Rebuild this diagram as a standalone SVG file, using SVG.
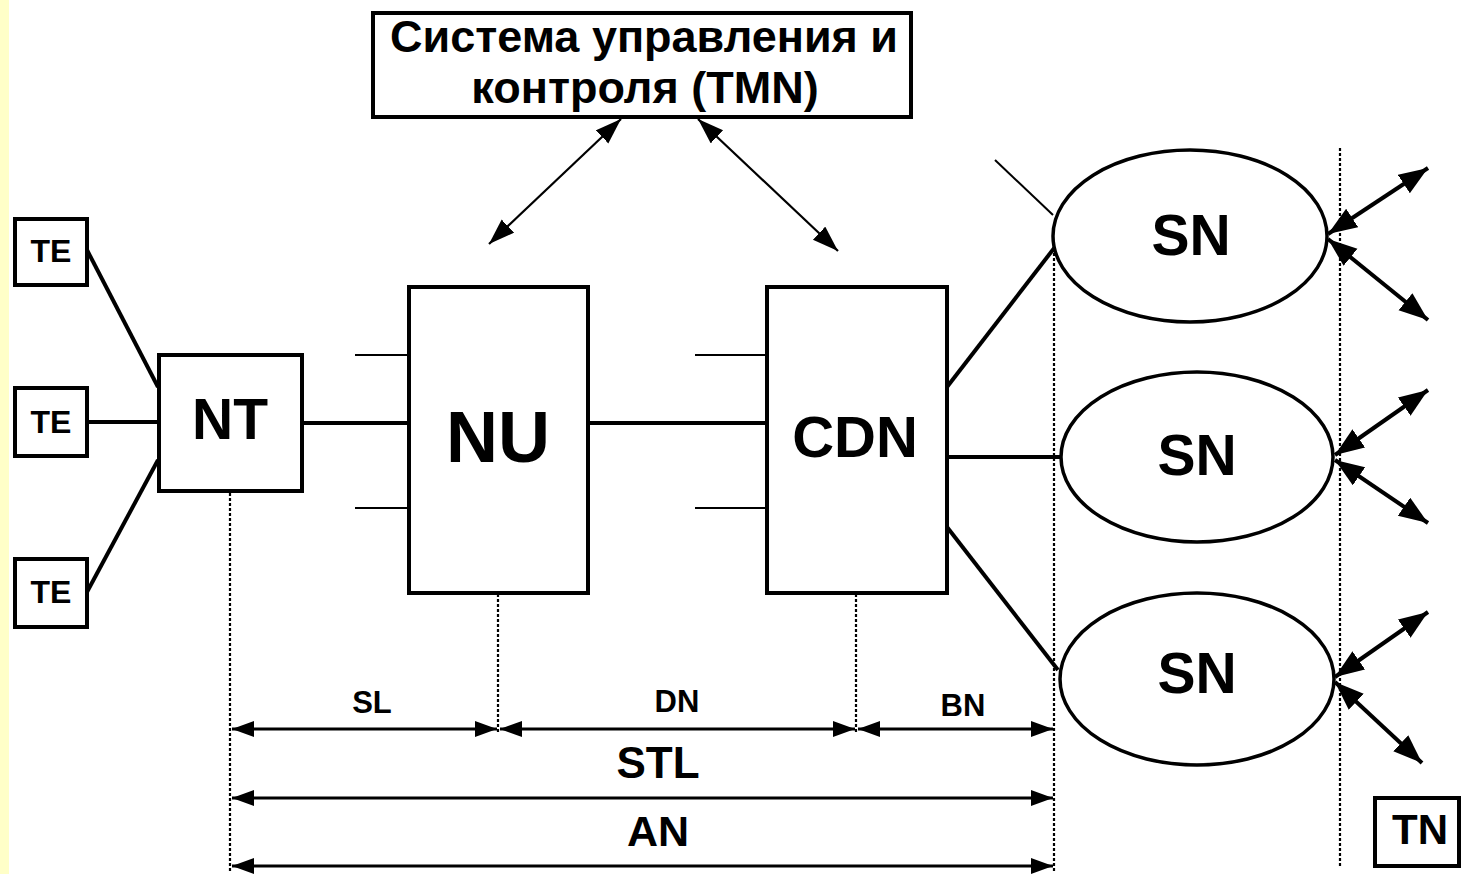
<svg xmlns="http://www.w3.org/2000/svg" width="1461" height="874" viewBox="0 0 1461 874">
<style>
.box{fill:#fff;stroke:#000;stroke-width:4}
.ell{fill:#fff;stroke:#000;stroke-width:3.5}
.t{font-family:"Liberation Sans",Arial,sans-serif;font-weight:bold;fill:#000;text-anchor:middle}
.ln{stroke:#000;stroke-width:4;fill:none}
.thin{stroke:#000;stroke-width:2;fill:none}
.dash{stroke:#000;stroke-width:2.2;stroke-dasharray:3 2;fill:none}
.dim{stroke:#000;stroke-width:3;fill:none;marker-start:url(#ah);marker-end:url(#ah)}
.tmn{stroke:#000;stroke-width:2.2;fill:none;marker-start:url(#ahs);marker-end:url(#ahs)}
.sna{stroke:#000;stroke-width:4;fill:none;marker-start:url(#ahb);marker-end:url(#ahb)}
</style>
<defs>
<marker id="ah" markerUnits="userSpaceOnUse" markerWidth="24" markerHeight="20" refX="22" refY="8" orient="auto-start-reverse"><path d="M0,0 L22,8 L0,16 Z" fill="#000"/></marker>
<marker id="ahs" markerUnits="userSpaceOnUse" markerWidth="28" markerHeight="20" refX="26" refY="9" orient="auto-start-reverse"><path d="M0,0 L26,9 L0,18 Z" fill="#000"/></marker>
<marker id="ahb" markerUnits="userSpaceOnUse" markerWidth="32" markerHeight="24" refX="29" refY="11" orient="auto-start-reverse"><path d="M0,0 L29,11 L0,22 Z" fill="#000"/></marker>
</defs>
<rect x="0" y="0" width="1461" height="874" fill="#fff"/>
<rect x="0" y="0" width="9" height="874" fill="#FFFFC8"/>

<g id="connectors">
  <line class="ln" x1="87" y1="250" x2="158" y2="387"/>
  <line class="ln" x1="87" y1="422" x2="158" y2="422"/>
  <line class="ln" x1="87" y1="592" x2="158" y2="460"/>
  <line class="ln" x1="302" y1="423" x2="409" y2="423"/>
  <line class="ln" x1="588" y1="423" x2="767" y2="423"/>
  <line class="thin" x1="355" y1="355" x2="409" y2="355"/>
  <line class="thin" x1="355" y1="508" x2="409" y2="508"/>
  <line class="thin" x1="695" y1="355" x2="767" y2="355"/>
  <line class="thin" x1="695" y1="508" x2="767" y2="508"/>
  <line class="ln" x1="947" y1="387" x2="1055" y2="247"/>
  <line class="ln" x1="947" y1="457" x2="1062" y2="457"/>
  <line class="ln" x1="947" y1="527" x2="1058" y2="670"/>
  <line class="thin" x1="995" y1="160" x2="1053" y2="215"/>
  <line class="tmn" x1="621" y1="119" x2="489" y2="244"/>
  <line class="tmn" x1="698" y1="119" x2="838" y2="251"/>
  <line class="sna" x1="1328" y1="234" x2="1428" y2="168"/>
  <line class="sna" x1="1328" y1="239" x2="1428" y2="320"/>
  <line class="sna" x1="1335" y1="455" x2="1428" y2="390"/>
  <line class="sna" x1="1335" y1="460" x2="1428" y2="523"/>
  <line class="sna" x1="1335" y1="677" x2="1428" y2="612"/>
  <line class="sna" x1="1335" y1="682" x2="1422" y2="763"/>
  <line class="dash" x1="230" y1="493" x2="230" y2="872"/>
  <line class="dash" x1="498" y1="594" x2="498" y2="732"/>
  <line class="dash" x1="856" y1="594" x2="856" y2="732"/>
  <line class="dash" x1="1054" y1="248" x2="1054" y2="872"/>
  <line class="dash" x1="1340" y1="148" x2="1340" y2="866"/>
  <line class="dim" x1="232" y1="729" x2="497" y2="729"/>
  <line class="dim" x1="500" y1="729" x2="855" y2="729"/>
  <line class="dim" x1="858" y1="729" x2="1053" y2="729"/>
  <line class="dim" x1="232" y1="798" x2="1053" y2="798"/>
  <line class="dim" x1="232" y1="866" x2="1053" y2="866"/>
</g>

<g id="tmn"><rect class="box" x="373" y="13" width="538" height="104"/>
  <text class="t" x="644" y="52" font-size="45">Система управления и</text>
  <text class="t" x="645" y="103" font-size="45">контроля (TMN)</text></g>
<g id="te1"><rect class="box" x="15" y="219" width="72" height="66"/><text class="t" x="51" y="262" font-size="32">TE</text></g>
<g id="te2"><rect class="box" x="15" y="388" width="72" height="68"/><text class="t" x="51" y="433" font-size="32">TE</text></g>
<g id="te3"><rect class="box" x="15" y="559" width="72" height="68"/><text class="t" x="51" y="603" font-size="32">TE</text></g>
<g id="nt"><rect class="box" x="159" y="355" width="143" height="136"/><text class="t" x="230" y="439" font-size="57">NT</text></g>
<g id="nu"><rect class="box" x="409" y="287" width="179" height="306"/><text class="t" x="498" y="462" font-size="72">NU</text></g>
<g id="cdn"><rect class="box" x="767" y="287" width="180" height="306"/><text class="t" x="855" y="457" font-size="58">CDN</text></g>
<g id="sn1"><ellipse class="ell" cx="1190" cy="236" rx="137" ry="86"/><text class="t" x="1191" y="255" font-size="57">SN</text></g>
<g id="sn2"><ellipse class="ell" cx="1197" cy="457" rx="136" ry="85"/><text class="t" x="1197" y="475" font-size="57">SN</text></g>
<g id="sn3"><ellipse class="ell" cx="1197" cy="679" rx="137" ry="86"/><text class="t" x="1197" y="693" font-size="57">SN</text></g>
<g id="tn"><rect class="box" x="1375" y="798" width="84" height="68"/><text class="t" x="1420" y="844" font-size="42">TN</text></g>
<g id="labels">
  <text class="t" x="372" y="713" font-size="31">SL</text>
  <text class="t" x="677" y="712" font-size="31">DN</text>
  <text class="t" x="963" y="716" font-size="31">BN</text>
  <text class="t" x="658" y="778" font-size="44">STL</text>
  <text class="t" x="658" y="846" font-size="43">AN</text>
</g>
</svg>
